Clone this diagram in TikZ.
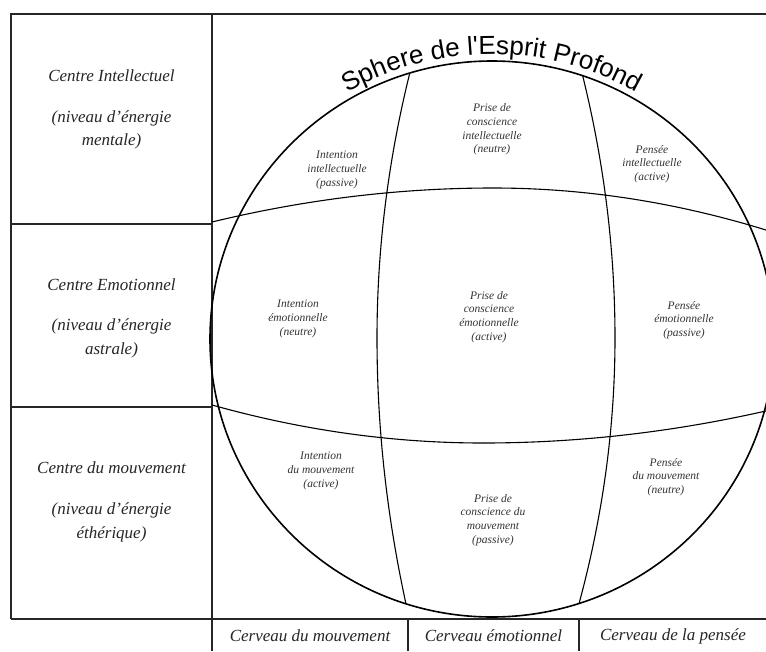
\documentclass[tikz,border=0pt]{standalone}
\usepackage{fontspec}
\setmainfont{Liberation Serif}
\newfontfamily\titlefont{Liberation Sans}
\usetikzlibrary{decorations.text}
\newcommand\titlestyle{\titlefont\fontsize{26}{26}\selectfont}
\begin{document}
\begin{tikzpicture}[x=1pt,y=-1pt,
 frame/.style={line width=1.3pt, draw=black!85},
 thickline/.style={line width=2.6pt, draw=black!85},
 sphere/.style={line width=1.6pt, draw=black},
 gridline/.style={line width=1.1pt, draw=black},
 lefttxt/.style={font=\fontsize{17}{23.5}\selectfont\itshape, align=center, text=black!85, inner sep=0pt},
 celltxt/.style={font=\fontsize{11.5}{13.6}\selectfont\itshape, align=center, text=black!80, inner sep=0pt},
 bottxt/.style={font=\fontsize{17}{20}\selectfont\itshape, text=black!85, inner sep=0pt}]
\useasboundingbox (0,0) rectangle (766,651);
\clip (0,0) rectangle (766,651);
\fill[white] (0,0) rectangle (766,651);

% frame
\coordinate (c1) at (11,14);
\coordinate (c2) at (766,14);
\coordinate (c3) at (212,14);
\coordinate (c4) at (212,651);
\coordinate (c5) at (11,619);
\coordinate (c6) at (766,619);
\coordinate (r1l) at (11,224);
\coordinate (r1r) at (212,224);
\coordinate (r2l) at (11,407);
\coordinate (r2r) at (212,407);
\coordinate (b0) at (212,619);
\coordinate (b1t) at (408,619);
\coordinate (b1b) at (408,651);
\coordinate (b2t) at (579,619);
\coordinate (b2b) at (579,651);
\draw[frame] (c5) -- (c1) -- (c2);
\draw[frame] (c3) -- (c4);
\draw[thickline] (r1r) -- (b0);
\draw[frame] (r1l) -- (r1r);
\draw[frame] (r2l) -- (r2r);
\draw[frame] (c5) -- (c6);
\draw[frame] (b1t) -- (b1b);
\draw[frame] (b2t) -- (b2b);

% sphere
\coordinate (ctr) at (492,339);
\draw[sphere] (ctr) ellipse [x radius=282, y radius=278];
\begin{scope}
\clip (ctr) ellipse [x radius=282, y radius=278];
\draw[gridline] plot[domain=60:338, samples=50, variable=\t] ({377+(0.0216*(\t-338))^2}, \t);
\draw[gridline] plot[domain=338:620, samples=50, variable=\t] ({377+(0.02025*(\t-338))^2}, \t);
\draw[gridline] plot[domain=60:338, samples=50, variable=\t] ({615-(0.02168*(\t-338))^2}, \t);
\draw[gridline] plot[domain=338:620, samples=50, variable=\t] ({615-(0.02258*(\t-338))^2}, \t);
\end{scope}
\draw[gridline] plot[domain=212:493, samples=50, variable=\t] (\t, {188+(0.02075*(\t-493))^2});
\draw[gridline] plot[domain=493:766, samples=50, variable=\t] (\t, {188+(0.02374*(\t-493))^2});
\draw[gridline] plot[domain=212:483, samples=50, variable=\t] (\t, {443-(0.02275*(\t-483))^2});
\draw[gridline] plot[domain=483:766, samples=50, variable=\t] (\t, {443-(0.02*(\t-483))^2});

% title along arc
\path[decorate, decoration={text along path, text={|\titlestyle|Sphere de l'Esprit Profond}, text align=center}]
  plot[domain=128:52, samples=90, variable=\t] ({492+289*cos(\t)}, {339-285*sin(\t)});

% left column
\node[lefttxt] (ci) at (111.5,76) {Centre Intellectuel};
\node[lefttxt] (cis) at (111.5,130) {(niveau d’énergie\\mentale)};
\node[lefttxt] (ce) at (111.5,285) {Centre Emotionnel};
\node[lefttxt] (ces) at (111.5,338.5) {(niveau d’énergie\\astrale)};
\node[lefttxt] (cm) at (111.5,468) {Centre du mouvement};
\node[lefttxt] (cms) at (111.5,522.5) {(niveau d’énergie\\éthérique)};

% bottom row
\node[bottxt] (bm) at (310,636) {Cerveau du mouvement};
\node[bottxt] (be) at (493.5,636) {Cerveau émotionnel};
\node[bottxt] (bp) at (673,636) {Cerveau de la pensée};

% cells
\node[celltxt] (ii) at (337,170) {Intention\\intellectuelle\\(passive)};
\node[celltxt] (pi) at (492,129.5) {Prise de\\conscience\\intellectuelle\\(neutre)};
\node[celltxt] (qi) at (652,164) {Pensée\\intellectuelle\\(active)};
\node[celltxt] (ie) at (298,319) {Intention\\émotionnelle\\(neutre)};
\node[celltxt] (pe) at (489,317) {Prise de\\conscience\\émotionnelle\\(active)};
\node[celltxt] (qe) at (684,320) {Pensée\\émotionnelle\\(passive)};
\node[celltxt] (im) at (321,471) {Intention\\du mouvement\\(active)};
\node[celltxt] (pm) at (493,520) {Prise de\\conscience du\\mouvement\\(passive)};
\node[celltxt] (qm) at (666,477) {Pensée\\du mouvement\\(neutre)};
\end{tikzpicture}
\end{document}
